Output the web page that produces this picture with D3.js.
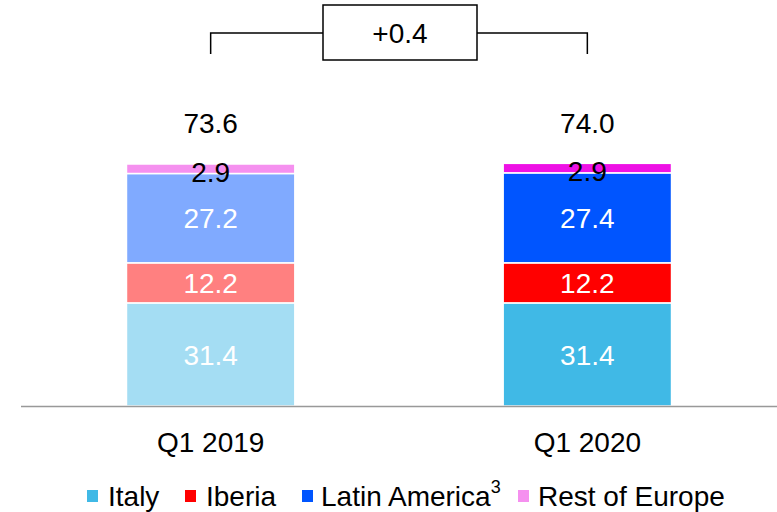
<!DOCTYPE html>
<meta charset="utf-8">
<script src="https://d3js.org/d3.v7.min.js"></script>
<style>
  body { margin: 0; background: #fff; }
  text { font-family: "Liberation Sans", Arial, sans-serif; }
</style>
<svg id="chart" width="777" height="512"></svg>
<script>
// data
const periods = ["Q1 2019", "Q1 2020"];
const segments = ["Italy", "Iberia", "Latin America", "Rest of Europe"];
const italy = [31.4, 31.4];
const iberia = [12.2, 12.2];
const latam = [27.2, 27.4];
const restEurope = [2.9, 2.9];
const totals = ["73.6", "74.0"];
const delta = "+0.4";

// colours per segment, 2019 faded and 2020 full
const colours = {
  "Italy": ["#a4ddf3", "#40b9e6"],
  "Iberia": ["#ff8080", "#ff0000"],
  "Latin America": ["#80aaff", "#0055ff"],
  "Rest of Europe": ["#f590ef", "#ee11e5"]
};
const legendColours = ["#40b9e6", "#ff0000", "#0055ff", "#f590ef"];

const svg = d3.select("#chart");
const baseY = 406;
const fs = 28;

const x = d3.scaleBand().domain(periods).range([21, 777]).paddingInner(0.553).paddingOuter(0.28);
const y = d3.scaleLinear().domain([0, 74]).range([baseY, baseY - 243]);

const rows = periods.map((p, i) => ({
  period: p, i: i,
  "Italy": italy[i], "Iberia": iberia[i], "Latin America": latam[i], "Rest of Europe": restEurope[i]
}));
const stacked = d3.stack().keys(segments)(rows);

const g = svg.append("g");
stacked.forEach(layer => {
  g.selectAll(null)
    .data(layer)
    .enter()
    .append("rect")
      .attr("x", d => x(d.data.period))
      .attr("width", x.bandwidth())
      .attr("y", d => y(d[1]))
      .attr("height", d => y(d[0]) - y(d[1]))
      .attr("fill", d => colours[layer.key][d.data.i])
      .attr("stroke", "#fff")
      .attr("stroke-width", 1.5);
});

// value labels drawn after all bars
stacked.forEach(layer => {
  g.selectAll(null)
    .data(layer)
    .enter()
    .append("text")
      .attr("x", d => x(d.data.period) + x.bandwidth() / 2)
      .attr("y", d => layer.key === "Rest of Europe" ? y(d[1]) + 8 : (y(d[0]) + y(d[1])) / 2)
      .attr("dy", "0.36em")
      .attr("text-anchor", "middle")
      .attr("font-size", fs)
      .attr("fill", layer.key === "Rest of Europe" ? "#000" : "#fff")
      .text(d => d.data[layer.key].toFixed(1));
});

// totals
g.selectAll(".total")
  .data(periods)
  .enter()
  .append("text")
    .attr("x", d => x(d) + x.bandwidth() / 2)
    .attr("y", 123)
    .attr("dy", "0.36em")
    .attr("text-anchor", "middle")
    .attr("font-size", fs)
    .text((d, i) => totals[i]);

// baseline
svg.append("line")
  .attr("x1", 21).attr("x2", 777)
  .attr("y1", baseY + 0.5).attr("y2", baseY + 0.5)
  .attr("stroke", "#999").attr("stroke-width", 1.5);

// category axis labels
svg.selectAll(".cat")
  .data(periods)
  .enter()
  .append("text")
    .attr("x", d => x(d) + x.bandwidth() / 2)
    .attr("y", 442)
    .attr("dy", "0.36em")
    .attr("text-anchor", "middle")
    .attr("font-size", fs)
    .text(d => d);

// bracket with delta box
const cx1 = x(periods[0]) + x.bandwidth() / 2;
const cx2 = x(periods[1]) + x.bandwidth() / 2;
const boxL = 323, boxR = 477, boxT = 5, boxB = 60, brY = 33;
svg.append("path")
  .attr("d", `M${cx1},54V${brY}H${boxL} M${boxR},${brY}H${cx2}V54`)
  .attr("fill", "none").attr("stroke", "#000").attr("stroke-width", 1.5);
svg.append("rect")
  .attr("x", boxL).attr("y", boxT)
  .attr("width", boxR - boxL).attr("height", boxB - boxT)
  .attr("fill", "#fff").attr("stroke", "#000").attr("stroke-width", 1.5);
svg.append("text")
  .attr("x", (boxL + boxR) / 2).attr("y", brY)
  .attr("dy", "0.36em")
  .attr("text-anchor", "middle")
  .attr("font-size", fs)
  .text(delta);

// legend
const legendX = [87, 185, 302, 518];
const legendTextX = [108, 206, 321, 538];
const legend = svg.append("g");
segments.forEach((s, i) => {
  legend.append("rect")
    .attr("x", legendX[i]).attr("y", 490)
    .attr("width", 11).attr("height", 12)
    .attr("fill", legendColours[i]);
  const t = legend.append("text")
    .attr("x", legendTextX[i]).attr("y", 496)
    .attr("dy", "0.36em")
    .attr("font-size", fs)
    .text(s);
  if (s === "Latin America") {
    t.append("tspan")
      .attr("font-size", 18)
      .attr("dy", "-0.75em")
      .text("3");
  }
});
</script>
